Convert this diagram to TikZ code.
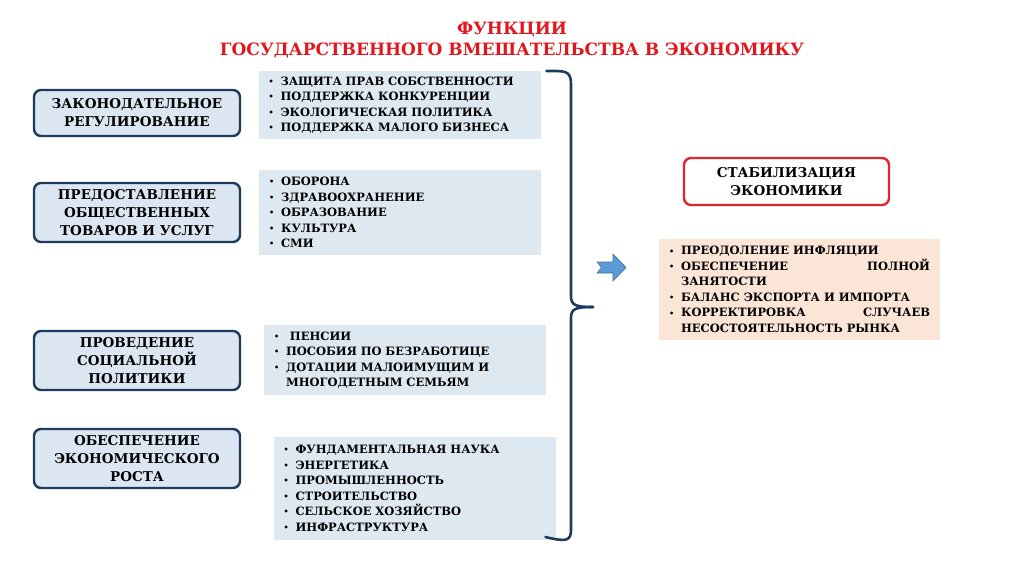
\documentclass[tikz,border=0pt]{standalone}
\usepackage{fontspec}
\setmainfont{DejaVu Serif}
\usetikzlibrary{positioning,calc}

\definecolor{navy}{HTML}{1F3B5C}
\definecolor{boxfill}{HTML}{DCE6F2}
\definecolor{listfill}{HTML}{DEE8F0}
\definecolor{peach}{HTML}{FBE5D6}
\definecolor{titlered}{HTML}{E3161E}
\definecolor{goalred}{HTML}{E0262B}
\definecolor{arrowblue}{HTML}{5B9BD5}
\definecolor{arrowedge}{HTML}{41719C}

% one bullet line with hanging indent
\newcommand{\bitem}[1]{\hangindent=1.05em\hangafter=1\noindent\makebox[1.05em][l]{\raisebox{0.15ex}{\scalebox{0.7}{\textbullet}}}#1\par}

\begin{document}
\begin{tikzpicture}[x=1pt,y=-1pt,every node/.style={outer sep=0pt},
        func/.style={draw=navy,line width=2.4pt,fill=boxfill,rounded corners=7pt,
        minimum width=206,minimum height=59,align=center,
        font=\bfseries\fontsize{13.5}{18}\selectfont},
        list/.style={fill=listfill,minimum width=282,text width=262,
        inner xsep=10,align=left,font=\bfseries\fontsize{11.5}{15.5}\selectfont},
        goal/.style={draw=goalred,line width=2.4pt,fill=white,rounded corners=7pt,
        minimum width=205,minimum height=47,align=center,
        font=\bfseries\fontsize{13.5}{18}\selectfont},
        means/.style={fill=peach,minimum width=281,minimum height=101,text width=261,
        inner xsep=10,align=justify,font=\bfseries\fontsize{11.5}{15.5}\selectfont},
        brace/.style={draw=navy,line width=2.6pt,line cap=round}]
        \useasboundingbox (0,0) rectangle (1024,574);

        % Title
        \node[text=titlered,align=center,font=\bfseries\fontsize{17}{21}\selectfont]
            (title) at (512,40) {ФУНКЦИИ\\ГОСУДАРСТВЕННОГО ВМЕШАТЕЛЬСТВА В ЭКОНОМИКУ};

        % Functions
        \node[func,minimum height=46] (reg) at (137,113) {ЗАКОНОДАТЕЛЬНОЕ\\РЕГУЛИРОВАНИЕ};
        \node[func] (pub) at (137,212.5) {ПРЕДОСТАВЛЕНИЕ\\ОБЩЕСТВЕННЫХ\\ТОВАРОВ И УСЛУГ};
        \node[func] (soc) at (137,360.5) {ПРОВЕДЕНИЕ\\СОЦИАЛЬНОЙ\\ПОЛИТИКИ};
        \node[func] (grw) at (137,458.5) {ОБЕСПЕЧЕНИЕ\\ЭКОНОМИЧЕСКОГО\\РОСТА};

        % Lists
        \node[list,minimum height=68] (l1) at (399.5,105) {%
            \bitem{ЗАЩИТА ПРАВ СОБСТВЕННОСТИ}\bitem{ПОДДЕРЖКА КОНКУРЕНЦИИ}%
            \bitem{ЭКОЛОГИЧЕСКАЯ ПОЛИТИКА}\bitem{ПОДДЕРЖКА МАЛОГО БИЗНЕСА}};
        \node[list,minimum height=85] (l2) at (400,212.5) {%
            \bitem{ОБОРОНА}\bitem{ЗДРАВООХРАНЕНИЕ}\bitem{ОБРАЗОВАНИЕ}%
            \bitem{КУЛЬТУРА}\bitem{СМИ}};
        \node[list,minimum height=70] (l3) at (405,360) {%
            \bitem{\ ПЕНСИИ}\bitem{ПОСОБИЯ ПО БЕЗРАБОТИЦЕ}%
            \bitem{ДОТАЦИИ МАЛОИМУЩИМ И МНОГОДЕТНЫМ СЕМЬЯМ}};
        \node[list,minimum height=103] (l4) at (414.5,488.5) {%
            \bitem{ФУНДАМЕНТАЛЬНАЯ НАУКА}\bitem{ЭНЕРГЕТИКА}\bitem{ПРОМЫШЛЕННОСТЬ}%
            \bitem{СТРОИТЕЛЬСТВО}\bitem{СЕЛЬСКОЕ ХОЗЯЙСТВО}\bitem{ИНФРАСТРУКТУРА}};

        % Brace
        \coordinate (btop) at ([xshift=6]l1.north east);
        \coordinate (bbot) at ([xshift=-10,yshift=3]l4.south east);
        \coordinate (btip) at (593,307);
        \draw[brace] (btop) .. controls ++(18,0) and (571,70) .. (571,84)
            -- (571,296) .. controls (571,305) and (575,307) .. (btip);
        \draw[brace] (btip) .. controls (575,307) and (571,309) .. (571,318)
            -- (571,530) .. controls (571,541) and (566,542) .. (bbot);

        % Arrow
        \draw[fill=arrowblue,draw=arrowedge,line width=0.6pt]
            (597,262) -- (613,262) -- (613,254) -- (626,267.5) -- (613,281)
            -- (613,273) -- (597,273) -- (601.5,267.5) -- cycle;

        % Stabilization
        \node[goal] (stab) at (786.5,181.5) {СТАБИЛИЗАЦИЯ\\ЭКОНОМИКИ};
        \node[means] (tools) at (799.5,289.5) {%
            \bitem{ПРЕОДОЛЕНИЕ ИНФЛЯЦИИ}\bitem{ОБЕСПЕЧЕНИЕ ПОЛНОЙ ЗАНЯТОСТИ}%
            \bitem{БАЛАНС ЭКСПОРТА И ИМПОРТА}%
            \bitem{КОРРЕКТИРОВКА СЛУЧАЕВ НЕСОСТОЯТЕЛЬНОСТЬ РЫНКА}};
\end{tikzpicture}
\end{document}
